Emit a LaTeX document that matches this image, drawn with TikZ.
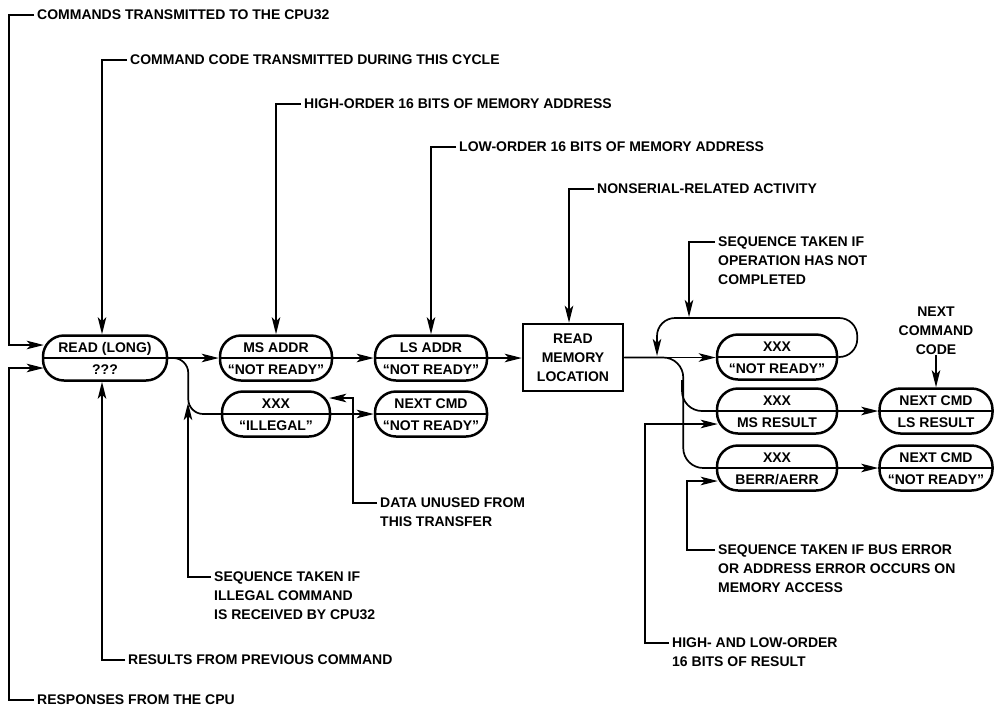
\documentclass[tikz,border=0pt]{standalone}
\usepackage{fontspec}
\setmainfont{Liberation Sans}
\usetikzlibrary{arrows.meta,calc}
\newcommand\lab{\fontsize{14}{18.8}\selectfont\bfseries}
\newcommand\pillbox[6]{%
  \node[pill=#4] (#1) at (#2,#3) {};
  \node[ptext] (#1t) at ([yshift=11pt]#1.center) {#5};
  \node[ptext] (#1b) at ([yshift=-11pt]#1.center) {#6};
  \draw[conn] (#1.west) -- (#1.east);}
\begin{document}
\begin{tikzpicture}[x=1pt,y=-1pt,
  conn/.style={line width=1.7pt},
  arr/.style={conn,-{Stealth[length=17pt,width=8.5pt,inset=4pt]}},
  pill/.style={draw,line width=2.5pt,rounded corners=21pt,minimum height=45pt,inner sep=0pt,minimum width=#1},
  pill/.default=112pt,
  ptext/.style={inner sep=0pt,text height=10pt,text depth=0pt,font=\lab},
  lbl/.style={inner sep=0pt,anchor=north west,align=left,font=\lab},
]
\useasboundingbox (0,0) rectangle (996,713);

% boxes
\pillbox{READ}{105}{358}{124pt}{READ (LONG)}{???}
\pillbox{MS}{276}{358}{112pt}{MS ADDR}{“NOT READY”}
\pillbox{LS}{431}{358}{112pt}{LS ADDR}{“NOT READY”}
\pillbox{IL}{276}{414}{108pt}{XXX}{“ILLEGAL”}
\pillbox{NCa}{431}{414}{112pt}{NEXT CMD}{“NOT READY”}
\node[draw,line width=2.5pt,minimum width=100pt,minimum height=67pt,inner sep=0pt,align=center,font=\fontsize{14}{19}\selectfont\bfseries] (RML) at (573,357.5) {READ\\MEMORY\\LOCATION};
\pillbox{NR}{777}{357}{120pt}{XXX}{“NOT READY”}
\pillbox{MSR}{777}{411}{120pt}{XXX}{MS RESULT}
\pillbox{BE}{777}{468}{120pt}{XXX}{BERR/AERR}
\pillbox{LSR}{936}{411}{113pt}{NEXT CMD}{LS RESULT}
\pillbox{NCb}{936}{468}{113pt}{NEXT CMD}{“NOT READY”}

% main flow
\draw[arr] (READ.east) -- (MS.west);
\draw[arr] (MS.east) -- (LS.west);
\draw[arr] (LS.east) -- (LS.east -| RML.west);
\draw[conn,rounded corners=15pt] (READ.east) -- ++(20,0) |- (IL.west);
\draw[arr] (IL.east) -- (NCa.west);
\draw[arr] (RML.east) -- (RML.east -| NR.west);
\draw[conn,rounded corners=20pt] (RML.east) -- ++(59,0) |- (BE.west);
\coordinate (vb) at (682,380);
\draw[conn,rounded corners=20pt] (vb) |- (MSR.west);
\draw[arr] (MSR.east) -- (LSR.west);
\draw[arr] (BE.east) -- (NCb.west);
\coordinate (lt) at (657,318);
\coordinate (lp) at (657,356);
\draw[arr,rounded corners=18pt] (NR.east) -- ++(19,0) |- (lt) -- (lp);

% labels
\node[lbl] (L1) at (37,10) {COMMANDS TRANSMITTED TO THE CPU32};
\draw[arr] ([xshift=-3pt,yshift=-5pt]L1.north west) -- ++(-25,0) |- ([xshift=2pt,yshift=13pt]READ.west);
\node[lbl] (L2) at (130,55) {COMMAND CODE TRANSMITTED DURING THIS CYCLE};
\draw[arr] ([xshift=-3pt,yshift=-5pt]L2.north west) -| ([xshift=-3pt]READ.north);
\node[lbl] (L3) at (304,99) {HIGH-ORDER 16 BITS OF MEMORY ADDRESS};
\draw[arr] ([xshift=-3pt,yshift=-5pt]L3.north west) -| (MS.north);
\node[lbl] (L4) at (459,142) {LOW-ORDER 16 BITS OF MEMORY ADDRESS};
\draw[arr] ([xshift=-3pt,yshift=-5pt]L4.north west) -| (LS.north);
\node[lbl] (L5) at (597,184) {NONSERIAL-RELATED ACTIVITY};
\draw[arr] ([xshift=-3pt,yshift=-5pt]L5.north west) -| ([xshift=-4pt]RML.north);
\node[lbl] (L6) at (718,237) {SEQUENCE TAKEN IF\\OPERATION HAS NOT\\COMPLETED};
\coordinate (lt2) at (689,317);
\draw[arr] ([xshift=-3pt,yshift=-5pt]L6.north west) -| (lt2);
\node[lbl,anchor=north,align=center] (L7) at (936,307) {NEXT\\COMMAND\\CODE};
\draw[arr] (L7.south) -- (LSR.north);
\node[lbl] (L8) at (380,498) {DATA UNUSED FROM\\THIS TRANSFER};
\draw[arr] ([xshift=-3pt,yshift=-5pt]L8.north west) -- ++(-24,0) |- ([xshift=-2pt,yshift=16pt]IL.east);
\node[lbl] (L9) at (214,572) {SEQUENCE TAKEN IF\\ILLEGAL COMMAND\\IS RECEIVED BY CPU32};
\coordinate (ilc) at (188,403);
\draw[arr] ([xshift=-3pt,yshift=-5pt]L9.north west) -| (ilc);
\node[lbl] (L10) at (128,655) {RESULTS FROM PREVIOUS COMMAND};
\draw[arr] ([xshift=-3pt,yshift=-5pt]L10.north west) -| ([xshift=-3pt]READ.south);
\node[lbl] (L11) at (37,695) {RESPONSES FROM THE CPU};
\draw[arr] ([xshift=-3pt,yshift=-5pt]L11.north west) -- ++(-25,0) |- ([xshift=2pt,yshift=-10pt]READ.west);
\node[lbl] (L12) at (718,545) {SEQUENCE TAKEN IF BUS ERROR\\OR ADDRESS ERROR OCCURS ON\\MEMORY ACCESS};
\draw[arr] ([xshift=-3pt,yshift=-5pt]L12.north west) -- ++(-28,0) |- ([xshift=2pt,yshift=-13pt]BE.west);
\node[lbl] (L13) at (672,638) {HIGH- AND LOW-ORDER\\16 BITS OF RESULT};
\draw[arr] ([xshift=-3pt,yshift=-5pt]L13.north west) -- ++(-24,0) |- ([xshift=2pt,yshift=-13pt]MSR.west);
\end{tikzpicture}
\end{document}
